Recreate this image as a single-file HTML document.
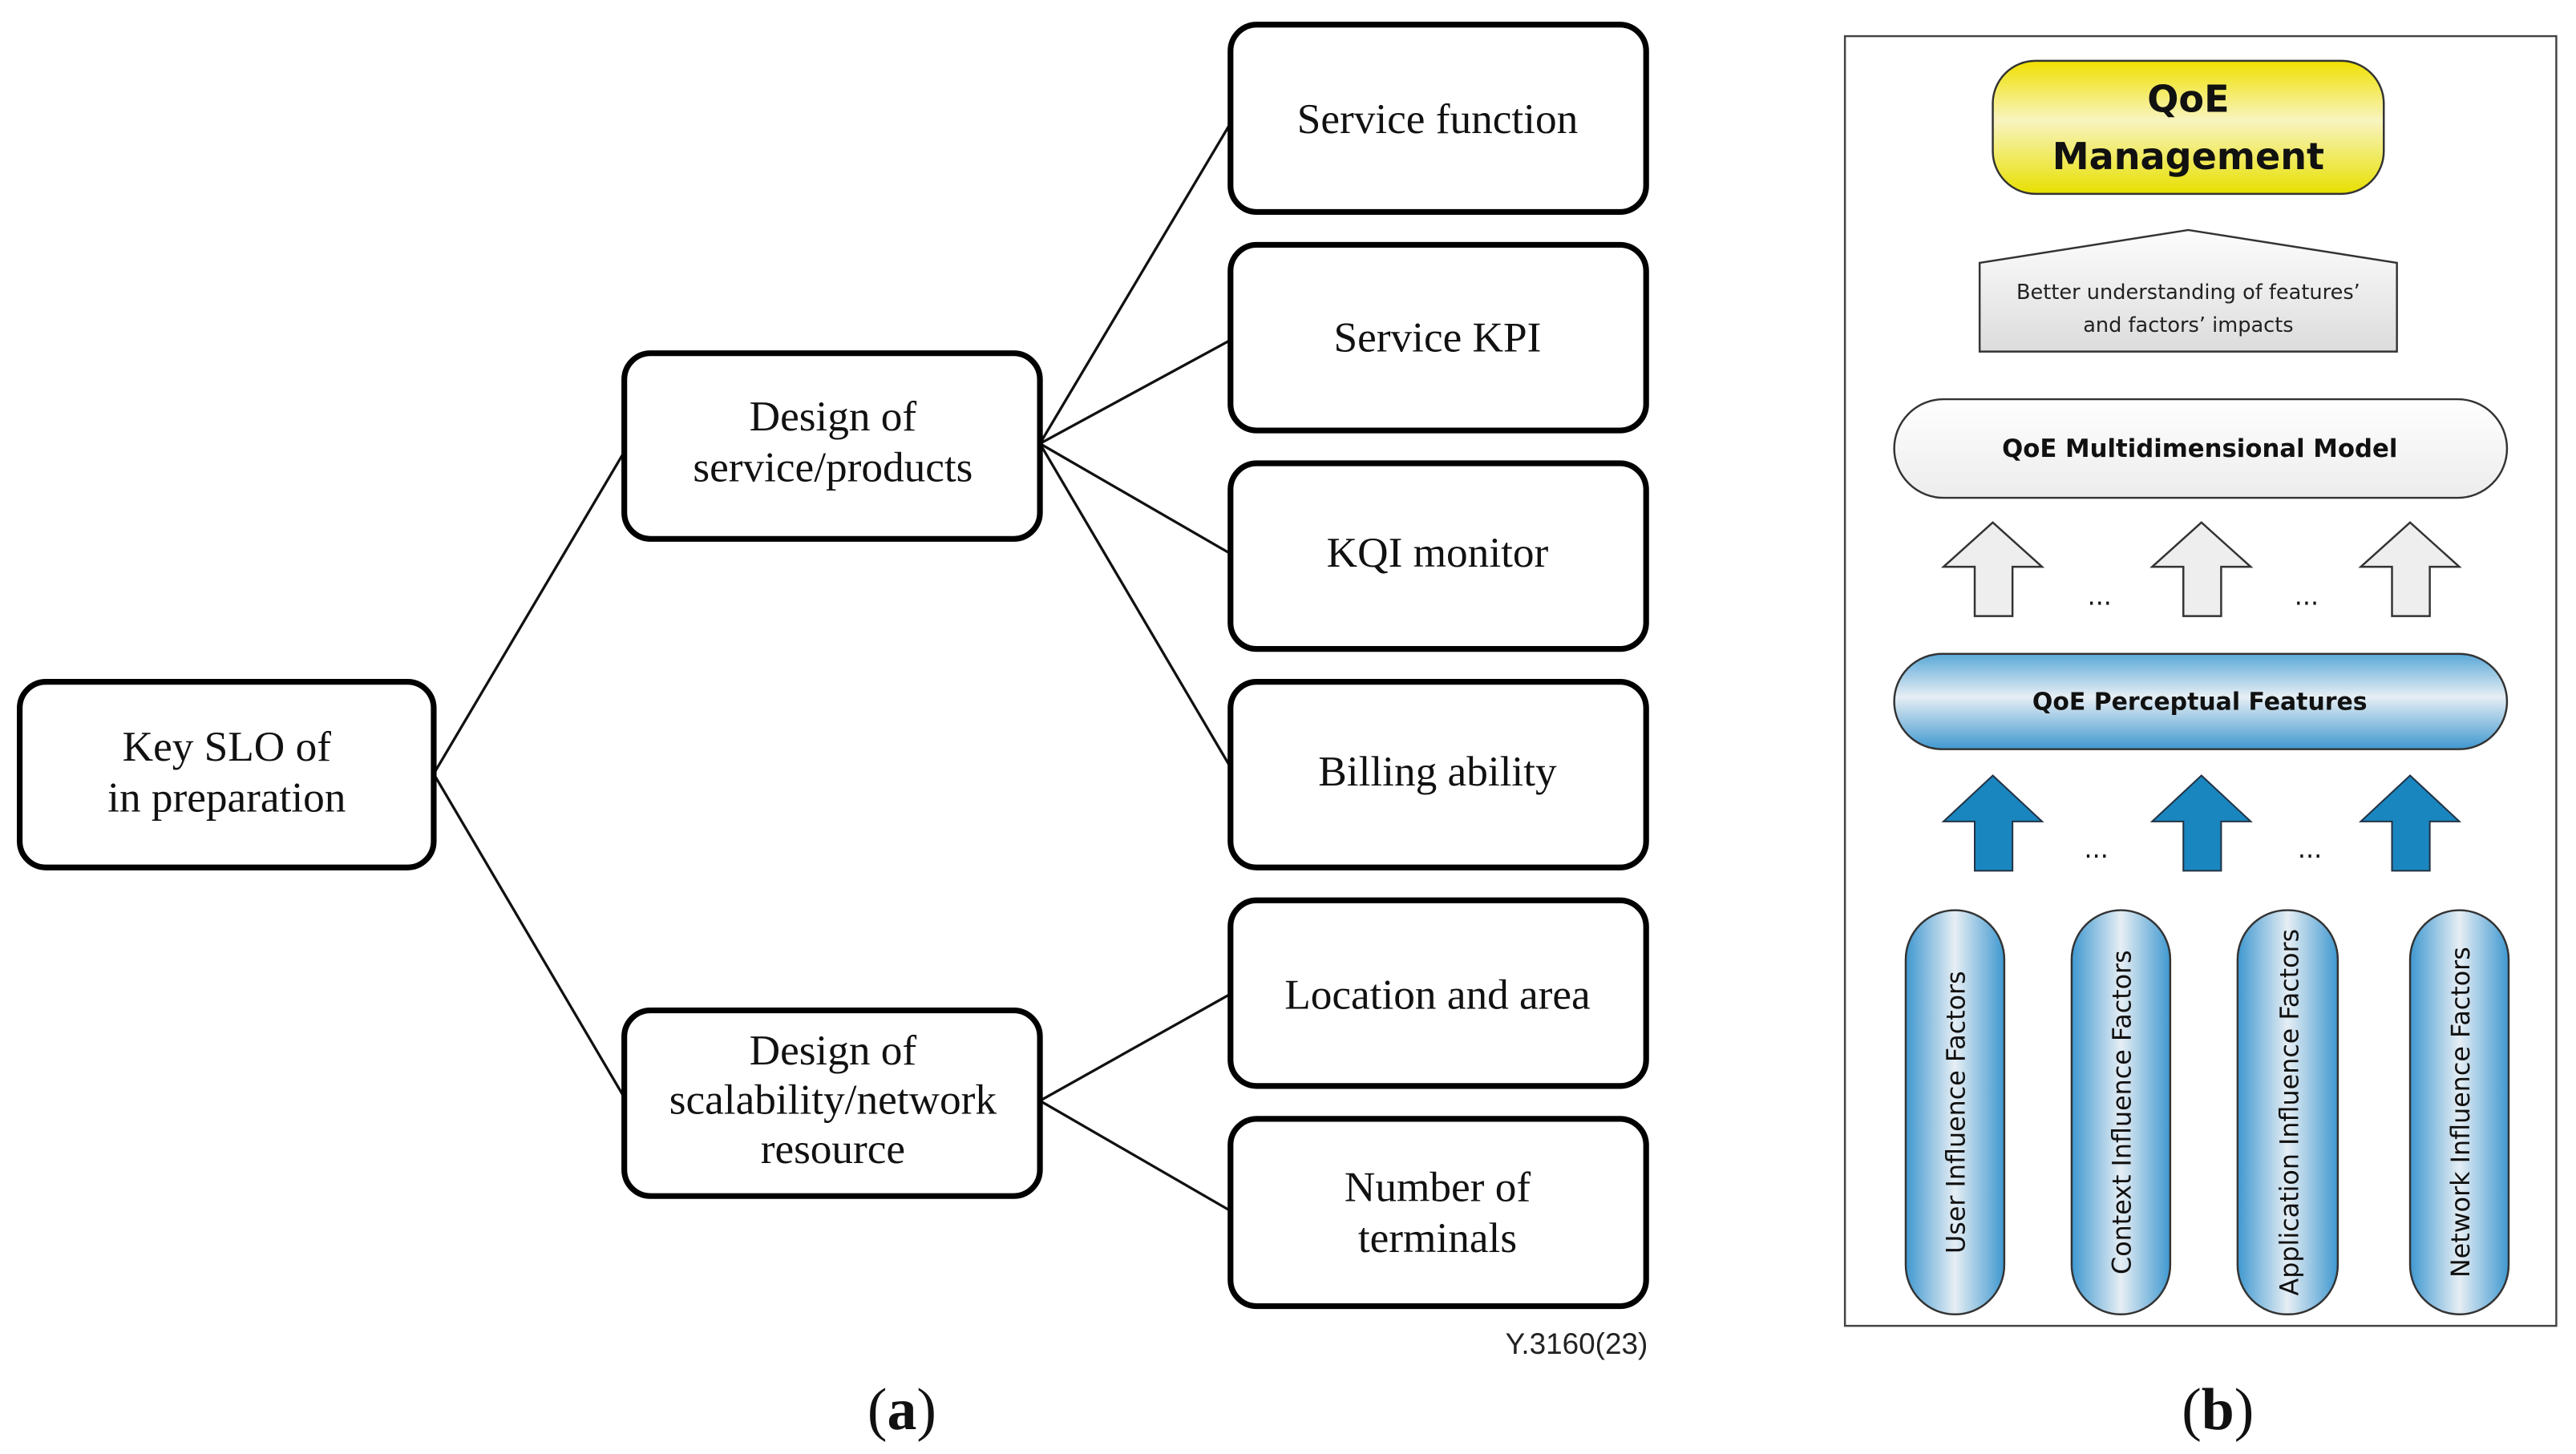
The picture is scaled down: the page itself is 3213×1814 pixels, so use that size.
<!DOCTYPE html>
<html><head><meta charset="utf-8"><style>
html,body{margin:0;padding:0;background:#fff;}
svg{display:block;}
.s{font-family:"Liberation Serif",serif;font-size:26px;fill:#111;text-anchor:middle;}
.b{font-family:"DejaVu Sans","Liberation Sans",sans-serif;fill:#111;text-anchor:middle;font-weight:bold;}
.v{font-family:"DejaVu Sans","Liberation Sans",sans-serif;font-size:15.5px;fill:#111;text-anchor:middle;}
</style></head><body>
<svg width="3213" height="1814" viewBox="0 0 1568 885" preserveAspectRatio="none" xmlns="http://www.w3.org/2000/svg">
<defs>
<linearGradient id="yel" x1="0" y1="0" x2="0" y2="1"><stop offset="0" stop-color="#f0e000"/><stop offset="0.45" stop-color="#f8f4c0"/><stop offset="1" stop-color="#e8e000"/></linearGradient>
<linearGradient id="gry" x1="0" y1="0" x2="0" y2="1"><stop offset="0" stop-color="#fdfdfd"/><stop offset="1" stop-color="#dcdcdc"/></linearGradient>
<linearGradient id="wht" x1="0" y1="0" x2="0" y2="1"><stop offset="0" stop-color="#ffffff"/><stop offset="1" stop-color="#ececec"/></linearGradient>
<linearGradient id="blu" x1="0" y1="0" x2="0" y2="1"><stop offset="0" stop-color="#5aa8d8"/><stop offset="0.45" stop-color="#e6eef4"/><stop offset="1" stop-color="#3f98d0"/></linearGradient>
<linearGradient id="bluh" x1="0" y1="0" x2="1" y2="0"><stop offset="0" stop-color="#3f98d0"/><stop offset="0.5" stop-color="#e6eef4"/><stop offset="1" stop-color="#3f98d0"/></linearGradient>
</defs>
<g fill="none" stroke="#111" stroke-width="1.6">
<path d="M264 471L380 275M264 471L380 668M633 270L749 75M633 270L749 207M633 270L749 337M633 270L749 467M633 670L749 605M633 670L749 737"/>
</g>
<g fill="#fff" stroke="#000" stroke-width="3.5">
<rect x="12" y="415" width="252" height="113" rx="16"/>
<rect x="380" y="215" width="253" height="113" rx="16"/>
<rect x="380" y="615" width="253" height="113" rx="16"/>
<rect x="749" y="15" width="253" height="114" rx="16"/>
<rect x="749" y="149" width="253" height="113" rx="16"/>
<rect x="749" y="282" width="253" height="113" rx="16"/>
<rect x="749" y="415" width="253" height="113" rx="16"/>
<rect x="749" y="548" width="253" height="113" rx="16"/>
<rect x="749" y="681" width="253" height="114" rx="16"/>
</g>
<text class="s" x="138" y="463">Key SLO of</text><text class="s" x="138" y="494">in preparation</text>
<text class="s" x="507" y="262">Design of</text><text class="s" x="507" y="293">service/products</text>
<text class="s" x="507" y="648">Design of</text><text class="s" x="507" y="678">scalability/network</text><text class="s" x="507" y="708">resource</text>
<text class="s" x="875" y="81">Service function</text>
<text class="s" x="875" y="214">Service KPI</text>
<text class="s" x="875" y="345">KQI monitor</text>
<text class="s" x="875" y="478">Billing ability</text>
<text class="s" x="875" y="614">Location and area</text>
<text class="s" x="875" y="731">Number of</text><text class="s" x="875" y="762">terminals</text>
<text x="1003" y="824" style="font-family:'Liberation Sans',sans-serif;font-size:18px;fill:#222;text-anchor:end">Y.3160(23)</text>
<text x="549" y="870" style="font-family:'Liberation Serif',serif;font-size:36px;fill:#111;text-anchor:middle">(<tspan font-weight="bold">a</tspan>)</text>
<text x="1350" y="870" style="font-family:'Liberation Serif',serif;font-size:36px;fill:#111;text-anchor:middle">(<tspan font-weight="bold">b</tspan>)</text>

<rect x="1123" y="22" width="433" height="785" fill="#fff" stroke="#444" stroke-width="1.2"/>
<rect x="1213" y="37" width="238" height="81" rx="26" fill="url(#yel)" stroke="#333" stroke-width="1.2"/>
<text class="b" x="1332" y="68" font-size="22.5">QoE</text>
<text class="b" x="1332" y="103" font-size="22.5">Management</text>
<path d="M1205 214L1205 160L1332 140L1459 160L1459 214Z" fill="url(#gry)" stroke="#333" stroke-width="1.2"/>
<text x="1332" y="182" style="font-family:'DejaVu Sans',sans-serif;font-size:12.5px;fill:#222;text-anchor:middle">Better understanding of features’</text>
<text x="1332" y="202" style="font-family:'DejaVu Sans',sans-serif;font-size:12.5px;fill:#222;text-anchor:middle">and factors’ impacts</text>
<rect x="1153" y="243" width="373" height="60" rx="30" fill="url(#wht)" stroke="#333" stroke-width="1.2"/>
<text class="b" x="1339" y="278" font-size="15">QoE Multidimensional Model</text>
<g fill="#eee" stroke="#333" stroke-width="1.2">
<path d="M1213 318L1243 345L1225 345L1225 375L1202 375L1202 345L1183 345Z"/>
<path d="M1340 318L1370 345L1352 345L1352 375L1329 375L1329 345L1310 345Z"/>
<path d="M1467 318L1497 345L1479 345L1479 375L1456 375L1456 345L1437 345Z"/>
</g>
<text x="1278" y="368" class="v">...</text><text x="1404" y="368" class="v">...</text>
<rect x="1153" y="398" width="373" height="58" rx="29" fill="url(#blu)" stroke="#333" stroke-width="1.2"/>
<text class="b" x="1339" y="432" font-size="14.6">QoE Perceptual Features</text>
<g fill="#1a86c0" stroke="#234" stroke-width="1">
<path d="M1213 472L1243 500L1225 500L1225 530L1202 530L1202 500L1183 500Z"/>
<path d="M1340 472L1370 500L1352 500L1352 530L1329 530L1329 500L1310 500Z"/>
<path d="M1467 472L1497 500L1479 500L1479 530L1456 530L1456 500L1437 500Z"/>
</g>
<text x="1276" y="522" class="v">...</text><text x="1406" y="522" class="v">...</text>
<g fill="url(#bluh)" stroke="#333" stroke-width="1.2">
<rect x="1160" y="554" width="60" height="246" rx="30"/>
<rect x="1261" y="554" width="60" height="246" rx="30"/>
<rect x="1362" y="554" width="61" height="246" rx="30"/>
<rect x="1467" y="554" width="60" height="246" rx="30"/>
</g>
<text class="v" transform="translate(1196,677) rotate(-90)">User Influence Factors</text>
<text class="v" transform="translate(1297,677) rotate(-90)">Context Influence Factors</text>
<text class="v" transform="translate(1399,677) rotate(-90)">Application Influence Factors</text>
<text class="v" transform="translate(1503,677) rotate(-90)">Network Influence Factors</text>
</svg>
</body></html>
